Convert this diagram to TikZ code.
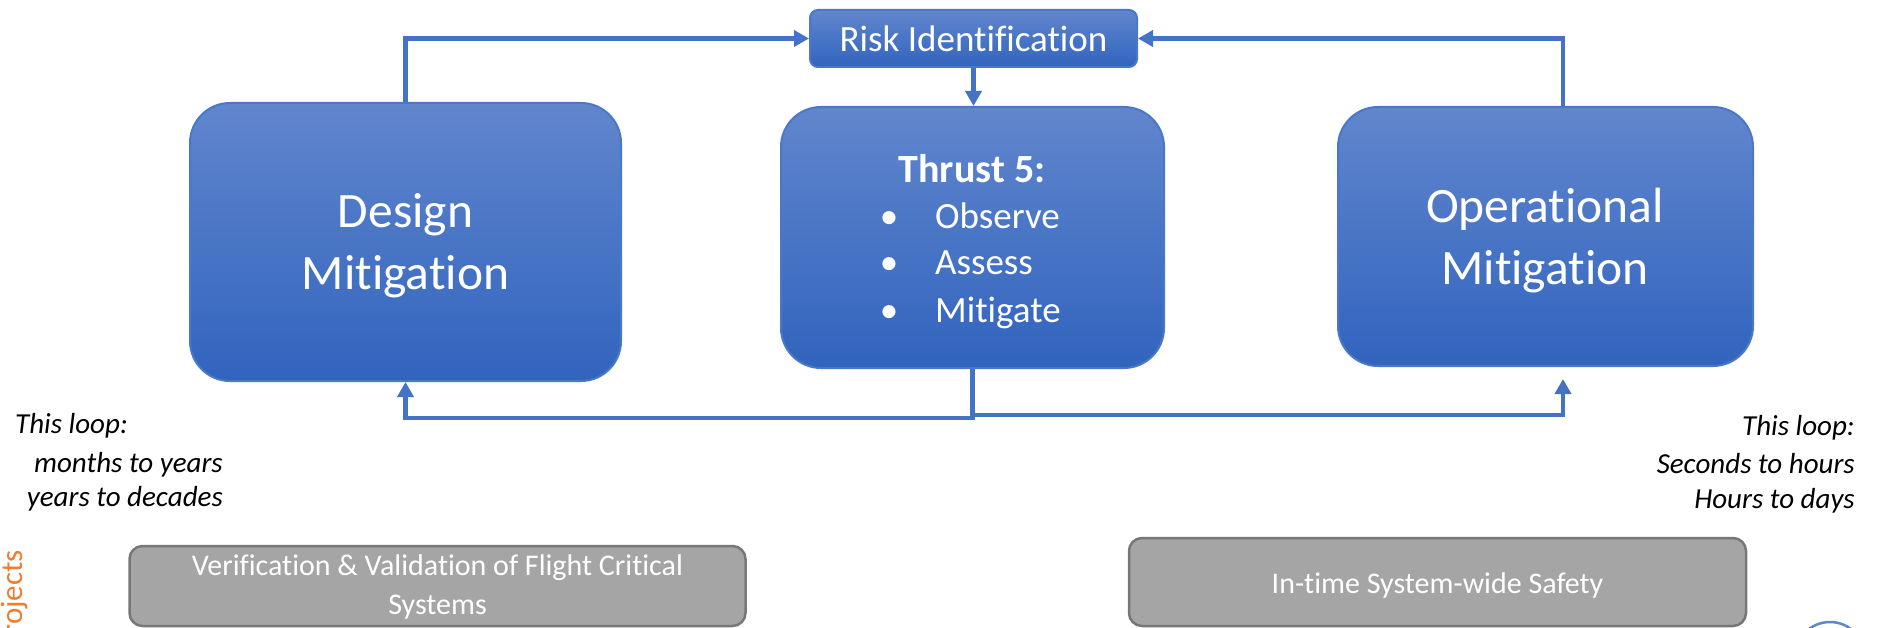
\documentclass[tikz,border=0pt]{standalone}
\usepackage{fontspec}
\setmainfont{Carlito}[Ligatures=NoCommon]
\usetikzlibrary{arrows.meta}

\definecolor{bluetop}{HTML}{6186CD}
\definecolor{bluebot}{HTML}{3164BE}
\definecolor{boxedge}{HTML}{4A78C8}
\definecolor{lineblue}{HTML}{4472C4}
\definecolor{grayfill}{HTML}{A5A5A5}
\definecolor{grayedge}{HTML}{777777}
\definecolor{orangetxt}{HTML}{ED7D31}

\begin{document}
\begin{tikzpicture}[x=1pt,y=-1pt,
  bluebox/.style={draw=boxedge, line width=2pt, rounded corners=40pt,
    top color=bluetop, bottom color=bluebot, inner sep=0pt},
  graybox/.style={draw=grayedge, line width=2.5pt, rounded corners=13pt,
    fill=grayfill, inner sep=0pt},
  bigtxt/.style={text=white, font=\fontsize{49.5}{60}\selectfont, inner sep=0pt, anchor=base},
  midtxt/.style={text=white, font=\fontsize{37}{46}\selectfont, inner sep=0pt, anchor=base},
  graytxt/.style={text=white, font=\fontsize{30}{38}\selectfont, inner sep=0pt, anchor=base},
  looptxt/.style={font=\fontsize{29}{35}\selectfont\itshape, inner sep=0pt},
  conn/.style={draw=lineblue, line width=4.5pt, line join=miter,
    -{Triangle[length=15pt,width=16pt]}}]

\useasboundingbox (0,0) rectangle (1879,628);
\clip (0,0) rectangle (1879,628);

% main boxes
\node[bluebox, rounded corners=8pt, minimum width=327pt, minimum height=57pt] (ri) at (973.5,38.5) {};
\node[bluebox, minimum width=431pt, minimum height=278pt] (dm) at (405.5,242) {};
\node[bluebox, minimum width=383pt, minimum height=261pt] (th) at (972.5,237.5) {};
\node[bluebox, minimum width=415pt, minimum height=259pt] (op) at (1545.5,236.5) {};

% box texts
\node[midtxt] (ritxt) at (973.5,52) {Risk Identification};

\node[bigtxt] (dm1) at (405.5,228) {Design};
\node[bigtxt] (dm2) at (405.5,290) {Mitigation};

\node[bigtxt] (op1) at (1545,223) {Operational};
\node[bigtxt] (op2) at (1545,285) {Mitigation};

\node[midtxt, font=\fontsize{40}{48}\selectfont\bfseries] (thtitle) at (972,183) {Thrust 5:};
\node[midtxt] (b1) at (889,229) {\textbullet};
\node[midtxt] (b2) at (889,275) {\textbullet};
\node[midtxt] (b3) at (889,322) {\textbullet};
\node[midtxt, anchor=base west] (t1) at (935,229) {Observe};
\node[midtxt, anchor=base west] (t2) at (935,275) {Assess};
\node[midtxt, anchor=base west] (t3) at (935,322) {Mitigate};

% connectors
\coordinate (jl) at (972,418);
\coordinate (jr) at (972,415);
\coordinate (opin) at (1563,379);
\draw[conn] (dm.north) |- (ri.west);
\draw[conn] ([xshift=17.5pt]op.north) |- (ri.east);
\draw[conn] (ri.south) -- (ri.south |- th.north);
\draw[conn] (th.south) -- (th.south |- jl) -| (dm.south);
\draw[conn] (th.south |- jr) -| (opin);

% loop timing notes
\node[looptxt, anchor=base west] (ll1) at (15,433) {This loop:};
\node[looptxt, anchor=base east] (ll2) at (223,472) {months to years};
\node[looptxt, anchor=base east] (ll3) at (223,506) {years to decades};
\node[looptxt, anchor=base east] (rl1) at (1855,435) {This loop:};
\node[looptxt, anchor=base east] (rl2) at (1855,473) {Seconds to hours};
\node[looptxt, anchor=base east] (rl3) at (1855,508) {Hours to days};

% project boxes
\node[graybox, minimum width=616pt, minimum height=80pt] (vv) at (437.5,586) {};
\node[graybox, minimum width=617pt, minimum height=88pt] (it) at (1437.5,582) {};
\node[graytxt] (vv1) at (437.5,575) {Verification \& Validation of Flight Critical};
\node[graytxt] (vv2) at (437.5,614) {Systems};
\node[graytxt] (it1) at (1437.5,593) {In-time System-wide Safety};

% side label and corner badge
\node[text=orangetxt, font=\fontsize{31}{37}\selectfont, rotate=90, inner sep=0pt, anchor=base east] (proj) at (22,550) {Projects};
\node[circle, draw=lineblue!85, line width=2.5pt, fill=white, minimum size=70pt, inner sep=0pt] (badge) at (1830,657) {};

\end{tikzpicture}
\end{document}
